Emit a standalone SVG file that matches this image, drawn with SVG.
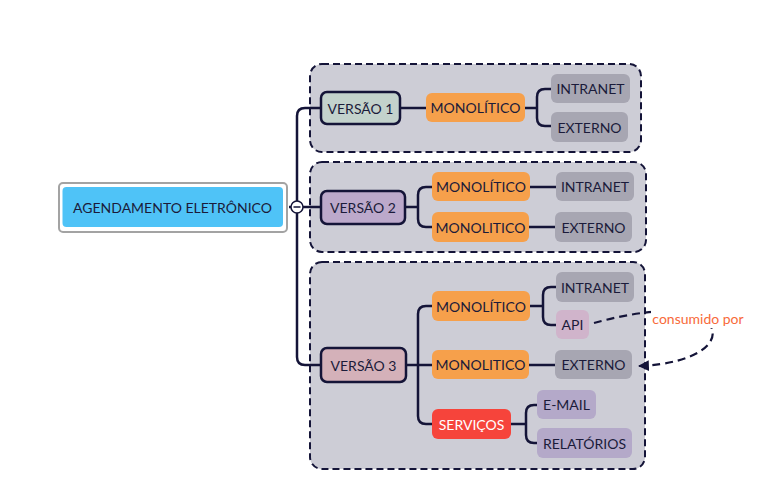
<svg xmlns="http://www.w3.org/2000/svg" width="777" height="484" viewBox="0 0 777 484">
<defs>
<style>
text{font-family:"Lato","Noto Sans","Liberation Sans",sans-serif;font-size:14px;fill:#1b1b3a;text-anchor:middle;dominant-baseline:central}
.grp{fill:#cdcdd6;stroke:#141438;stroke-width:2;stroke-dasharray:7 4}
.ver{stroke:#141438;stroke-width:2.5}
.mono{fill:#f6a04b}
.gray{fill:#a7a6b2}
.lil{fill:#b4a9c9}
.con{fill:none;stroke:#141438;stroke-width:2.5}
</style>
<marker id="arr" viewBox="0 0 10 10" refX="9" refY="5" markerWidth="5" markerHeight="5" orient="auto">
<path d="M0,0 L10,5 L0,10 z" fill="#141438"/>
</marker>
</defs>
<rect width="777" height="484" fill="#ffffff"/>

<g id="group1"><rect class="grp" x="310" y="64" width="331" height="88" rx="12"/></g>
<g id="group2"><rect class="grp" x="310" y="162" width="336" height="90" rx="12"/></g>
<g id="group3"><rect class="grp" x="310" y="262" width="335" height="207" rx="12"/></g>

<g id="connectors">
<path class="con" d="M291,207 H283" stroke-dasharray="2 2"/>
<path class="con" d="M321,108 H305 Q297,108 297,116 V357 Q297,365 305,365 H321"/>
<path class="con" d="M303,207 H321"/>
<path class="con" d="M400,108 H426"/>
<path class="con" d="M525,108 H537 M551,89 H545 Q537,89 537,97 V118 Q537,126 545,126 H551"/>
<path class="con" d="M405,207 H418 M432,187 H426 Q418,187 418,195 V219 Q418,227 426,227 H432"/>
<path class="con" d="M530,187 H556 M529,227 H555"/>
<path class="con" d="M406,365 H432 M432,306 H426 Q418,306 418,314 V416 Q418,424 426,424 H432"/>
<path class="con" d="M530,306 H543 M556,287 H551 Q543,287 543,295 V317 Q543,325 551,325 H556"/>
<path class="con" d="M529,365 H555"/>
<path class="con" d="M511,424 H526 M538,405 H534 Q526,405 526,413 V435 Q526,443 534,443 H538"/>
<path fill="none" stroke="#141438" stroke-width="2.2" stroke-dasharray="8 5" d="M594,323 C630,313 685,303 708,322 C725,342 695,364 639,366" marker-end="url(#arr)"/>
<rect x="651" y="309" width="94" height="19" fill="#ffffff"/>
<text x="698" y="318" style="fill:#f86a3a;font-size:14px">consumido por</text>
<circle cx="297" cy="207" r="6" fill="#ffffff" stroke="#141438" stroke-width="1.5"/>
<path d="M293.5,207 H300.5" stroke="#141438" stroke-width="1.5"/>
</g>

<g id="root">
<rect x="59" y="183" width="228" height="49" rx="4" fill="#ffffff" stroke="#a3a3a3" stroke-width="2"/>
<rect x="62.5" y="187" width="220.5" height="40" rx="4" fill="#4fc3f7"/>
<text x="172.5" y="207">AGENDAMENTO ELETRÔNICO</text>
</g>

<g id="versao1"><rect class="ver" x="321" y="92" width="79" height="32" rx="6" fill="#c3d2cc"/><text x="360.5" y="108">VERSÃO 1</text></g>
<g id="mono1"><rect class="mono" x="426" y="93" width="99" height="29" rx="6"/><text x="475.5" y="107.5">MONOLÍTICO</text></g>
<g id="intranet1"><rect class="gray" x="551" y="74" width="79" height="29" rx="6"/><text x="590.5" y="88.5">INTRANET</text></g>
<g id="externo1"><rect class="gray" x="551" y="112" width="77" height="30" rx="6"/><text x="589.5" y="127">EXTERNO</text></g>

<g id="versao2"><rect class="ver" x="321" y="191" width="84" height="33" rx="6" fill="#bca9cb"/><text x="363" y="207.5">VERSÃO 2</text></g>
<g id="mono2a"><rect class="mono" x="432" y="172" width="98" height="29" rx="6"/><text x="481" y="186.5">MONOLÍTICO</text></g>
<g id="mono2b"><rect class="mono" x="432" y="212" width="97" height="30" rx="6"/><text x="480.5" y="227">MONOLITICO</text></g>
<g id="intranet2"><rect class="gray" x="556" y="172" width="78" height="29" rx="6"/><text x="595" y="186.5">INTRANET</text></g>
<g id="externo2"><rect class="gray" x="555" y="212" width="77" height="30" rx="6"/><text x="593.5" y="227">EXTERNO</text></g>

<g id="versao3"><rect class="ver" x="321" y="348" width="85" height="34" rx="6" fill="#d4b1b9"/><text x="363.5" y="365">VERSÃO 3</text></g>
<g id="mono3a"><rect class="mono" x="432" y="291" width="98" height="30" rx="6"/><text x="481" y="306">MONOLÍTICO</text></g>
<g id="intranet3"><rect class="gray" x="556" y="272" width="78" height="30" rx="6"/><text x="595" y="287">INTRANET</text></g>
<g id="api"><rect x="556" y="310" width="33" height="29" rx="6" fill="#d0b4cb"/><text x="572.5" y="324.5">API</text></g>
<g id="mono3b"><rect class="mono" x="432" y="350" width="97" height="29" rx="6"/><text x="480.5" y="364.5">MONOLITICO</text></g>
<g id="externo3"><rect class="gray" x="555" y="350" width="77" height="29" rx="6"/><text x="593.5" y="364.5">EXTERNO</text></g>
<g id="servicos"><rect x="432" y="409" width="79" height="30" rx="6" fill="#f6443b"/><text x="471.5" y="424" style="fill:#ffffff">SERVIÇOS</text></g>
<g id="email"><rect class="lil" x="537" y="390" width="59" height="29" rx="6"/><text x="566.5" y="404.5">E-MAIL</text></g>
<g id="relatorios"><rect class="lil" x="537" y="428" width="95" height="30" rx="6"/><text x="584.5" y="443">RELATÓRIOS</text></g>
</svg>
